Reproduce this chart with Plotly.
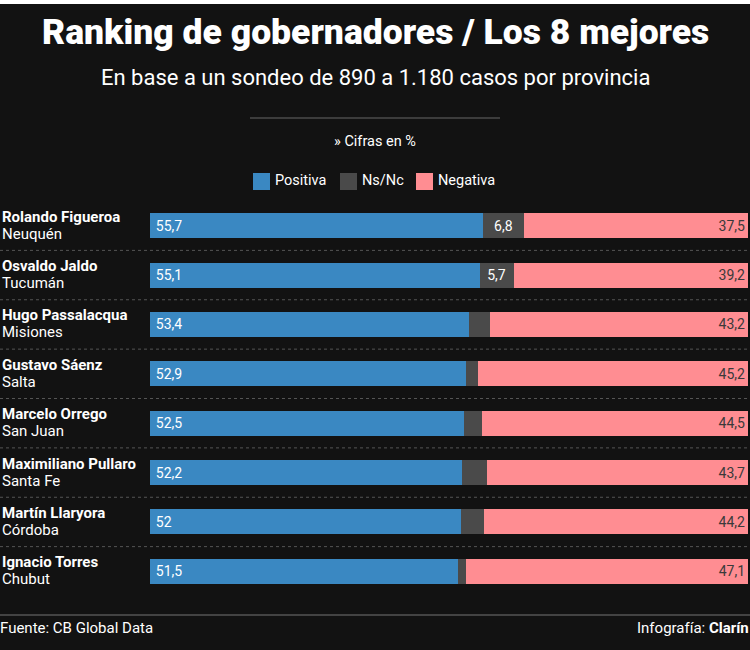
import plotly.graph_objects as go

# Data
gobernadores = ["Rolando Figueroa", "Osvaldo Jaldo", "Hugo Passalacqua", "Gustavo Sáenz",
                "Marcelo Orrego", "Maximiliano Pullaro", "Martín Llaryora", "Ignacio Torres"]
provincias = ["Neuquén", "Tucumán", "Misiones", "Salta",
              "San Juan", "Santa Fe", "Córdoba", "Chubut"]
positiva = [55.7, 55.1, 53.4, 52.9, 52.5, 52.2, 52.0, 51.5]
nsnc = [6.8, 5.7, 3.4, 1.9, 3.0, 4.1, 3.8, 1.4]
negativa = [37.5, 39.2, 43.2, 45.2, 44.5, 43.7, 44.2, 47.1]

BG = "#121212"
AZUL = "#3a88c2"
GRIS = "#4a4a4a"
ROSA = "#ff8d92"
SANS = "Roboto, Noto Sans, sans-serif"

W, H = 750, 650
ML, MR, MT, MB = 150, 2, 201, 54
PW, PH = W - ML - MR, H - MT - MB


def px_x(x):
    return (x - ML) / PW


def px_y(y):
    return (H - MB - y) / PH


def fmt(v, min_val=0, pad=""):
    # small segments get no label
    return pad + f"{v:g}".replace(".", ",") if v >= min_val else ""


fig = go.Figure()

series = [("Positiva", positiva, AZUL, "white", "start", 0, "\u2009"),
          ("Ns/Nc", nsnc, GRIS, "white", "middle", 5, ""),
          ("Negativa", negativa, ROSA, "#3a3a3a", "end", 0, "")]

for name, vals, color, tcolor, anchor, min_val, pad in series:
    fig.add_trace(go.Bar(
        y=gobernadores, x=vals, name=name, orientation="h",
        marker_color=color, marker_line_width=0,
        text=[fmt(v, min_val, pad) for v in vals], textposition="inside",
        insidetextanchor=anchor, textangle=0,
        textfont=dict(family=SANS, size=14, color=tcolor),
        hoverinfo="skip", showlegend=False,
    ))

annotations = []
shapes = []

# Left labels: name + province
for g, p in zip(gobernadores, provincias):
    annotations.append(dict(x=px_x(0), y=g, xref="paper", yref="y", text=f"<b>{g}</b>",
                            xanchor="left", yanchor="middle", yshift=9, showarrow=False,
                            font=dict(family=SANS, size=15, color="white")))
    annotations.append(dict(x=px_x(0), y=g, xref="paper", yref="y", text=p,
                            xanchor="left", yanchor="middle", yshift=-8, showarrow=False,
                            font=dict(family=SANS, size=15, color="white")))

# Dotted separators between rows
for i in range(len(gobernadores) - 1):
    shapes.append(dict(type="line", xref="paper", yref="y", x0=px_x(0), x1=px_x(W),
                       y0=i + 0.5, y1=i + 0.5, line=dict(color="#555", width=1, dash="dot")))

# Title block
annotations += [
    dict(x=px_x(375), y=px_y(32), xref="paper", yref="paper", showarrow=False,
         text="Ranking de gobernadores / Los 8 mejores", xanchor="center", yanchor="middle",
         font=dict(family=SANS, size=35.5, weight=900, color="white")),
    dict(x=px_x(375), y=px_y(78), xref="paper", yref="paper", showarrow=False,
         text="En base a un sondeo de 890 a 1.180 casos por provincia", xanchor="center", yanchor="middle",
         font=dict(family=SANS, size=22, color="white")),
    dict(x=px_x(375), y=px_y(141), xref="paper", yref="paper", showarrow=False,
         text="» Cifras en %", xanchor="center", yanchor="middle",
         font=dict(family=SANS, size=14.5, color="white")),
    dict(x=px_x(-2), y=px_y(628), xref="paper", yref="paper", showarrow=False,
         text="Fuente: CB Global Data", xanchor="left", yanchor="middle",
         font=dict(family=SANS, size=15, color="white")),
    dict(x=px_x(W + 1), y=px_y(628), xref="paper", yref="paper", showarrow=False,
         text="Infografía: <b>Clarín</b>", xanchor="right", yanchor="middle",
         font=dict(family=SANS, size=15, color="white")),
]

# Legend (manual)
legend_items = [("Positiva", AZUL, 253), ("Ns/Nc", GRIS, 340), ("Negativa", ROSA, 416)]
for label, color, x in legend_items:
    shapes.append(dict(type="rect", xref="paper", yref="paper", x0=px_x(x), x1=px_x(x + 17),
                       y0=px_y(190), y1=px_y(173), fillcolor=color, line_width=0))
    annotations.append(dict(x=px_x(x + 20), y=px_y(181), xref="paper", yref="paper", showarrow=False,
                            text=label, xanchor="left", yanchor="middle",
                            font=dict(family=SANS, size=14.5, color="white")))

# Rules
shapes += [
    dict(type="line", xref="paper", yref="paper", x0=px_x(250), x1=px_x(500),
         y0=px_y(118), y1=px_y(118), line=dict(color="#666", width=1)),
    dict(type="line", xref="paper", yref="paper", x0=px_x(0), x1=px_x(W),
         y0=px_y(615), y1=px_y(615), line=dict(color="#555", width=1.5)),
    dict(type="rect", xref="paper", yref="paper", x0=px_x(0), x1=px_x(W),
         y0=px_y(0), y1=px_y(4), fillcolor="white", line_width=0),
]

fig.update_layout(
    width=W, height=H,
    margin=dict(l=ML, r=MR, t=MT, b=MB),
    paper_bgcolor=BG, plot_bgcolor=BG,
    barmode="stack", bargap=0.494,
    xaxis=dict(range=[0, 100], visible=False, fixedrange=True),
    yaxis=dict(visible=False, autorange=False, range=[7.5, -0.5], fixedrange=True),
    annotations=annotations, shapes=shapes,
)

fig.write_html("out.html", config={"displayModeBar": False},
               post_script="document.body.style.margin='0';document.body.style.overflow='hidden';")
